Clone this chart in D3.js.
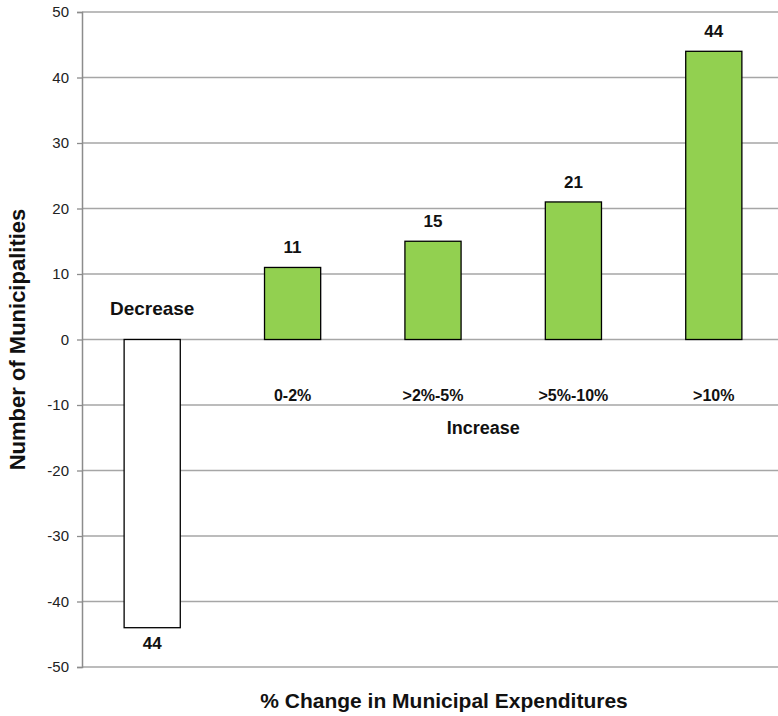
<!DOCTYPE html>
<html><head><meta charset="utf-8">
<script src="https://cdn.jsdelivr.net/npm/d3@7"></script>
<style>body{margin:0;background:#fff}svg{display:block;font-family:"Liberation Sans",Arial,sans-serif}</style>
</head><body><svg id="c" width="778" height="716"></svg>
<script>
const categories = ["Decrease", "0-2%", ">2%-5%", ">5%-10%", ">10%"];
const values = [-44, 11, 15, 21, 44];
const valueLabels = ["44", "11", "15", "21", "44"];
const yTicks = [-50, -40, -30, -20, -10, 0, 10, 20, 30, 40, 50];

const svg = d3.select("#c");
const x = d3.scaleBand().domain(categories).range([82, 784]).paddingInner(0).paddingOuter(0);
const y = d3.scaleLinear().domain([-50, 50]).range([667, 12]);
const barW = x.bandwidth() * 0.4;

// gridlines
svg.append("g").selectAll("line").data(yTicks).join("line")
  .attr("x1", 82).attr("x2", 778)
  .attr("y1", d => y(d)).attr("y2", d => y(d))
  .attr("stroke", "#a6a6a6").attr("stroke-width", 1.3);

// y axis
const yAxis = d3.axisLeft(y).tickValues(yTicks).tickSize(5).tickPadding(8).tickFormat(d => String(d));
const ga = svg.append("g").attr("transform", "translate(82,0)").call(yAxis);
ga.select(".domain").attr("stroke", "#8c8c8c").attr("stroke-width", 1.5);
ga.selectAll(".tick line").attr("stroke", "#8c8c8c").attr("stroke-width", 1.3);
ga.selectAll(".tick text").attr("font-size", 15).attr("fill", "#222").attr("font-family", "Liberation Sans, Arial, sans-serif");

// bars
svg.append("g").selectAll("rect").data(values).join("rect")
  .attr("x", (d, i) => x(categories[i]) + (x.bandwidth() - barW) / 2)
  .attr("width", barW)
  .attr("y", d => y(Math.max(0, d)))
  .attr("height", d => Math.abs(y(d) - y(0)))
  .attr("fill", d => d < 0 ? "#ffffff" : "#92d050")
  .attr("stroke", "#000").attr("stroke-width", 1.3);

// value labels
svg.append("g").selectAll("text").data(values).join("text")
  .attr("x", (d, i) => x(categories[i]) + x.bandwidth() / 2)
  .attr("y", d => d < 0 ? y(d) + 21 : y(d) - 14)
  .attr("text-anchor", "middle").attr("font-size", 17).attr("font-weight", "bold")
  .attr("fill", "#111")
  .text((d, i) => valueLabels[i]);

// category labels
svg.append("g").selectAll("text").data(categories).join("text")
  .attr("x", d => x(d) + x.bandwidth() / 2)
  .attr("y", (d, i) => i === 0 ? y(0) - 25 : y(0) + 61)
  .attr("text-anchor", "middle").attr("font-weight", "bold")
  .attr("fill", "#111")
  .attr("font-size", (d, i) => i === 0 ? 19 : 16)
  .text(d => d);

// Increase label
svg.append("text")
  .attr("x", (x(categories[1]) + x(categories[4]) + x.bandwidth()) / 2 - 20)
  .attr("y", y(0) + 94)
  .attr("text-anchor", "middle").attr("font-size", 18).attr("font-weight", "bold").attr("fill", "#111")
  .text("Increase");

// axis titles
svg.append("text")
  .attr("transform", "translate(25," + y(0) + ") rotate(-90)")
  .attr("text-anchor", "middle").attr("font-size", 22).attr("font-weight", "bold").attr("fill", "#111")
  .text("Number of Municipalities");
svg.append("text")
  .attr("x", 444).attr("y", 708)
  .attr("text-anchor", "middle").attr("font-size", 21).attr("font-weight", "bold").attr("fill", "#111")
  .text("% Change in Municipal Expenditures");
</script></body></html>
